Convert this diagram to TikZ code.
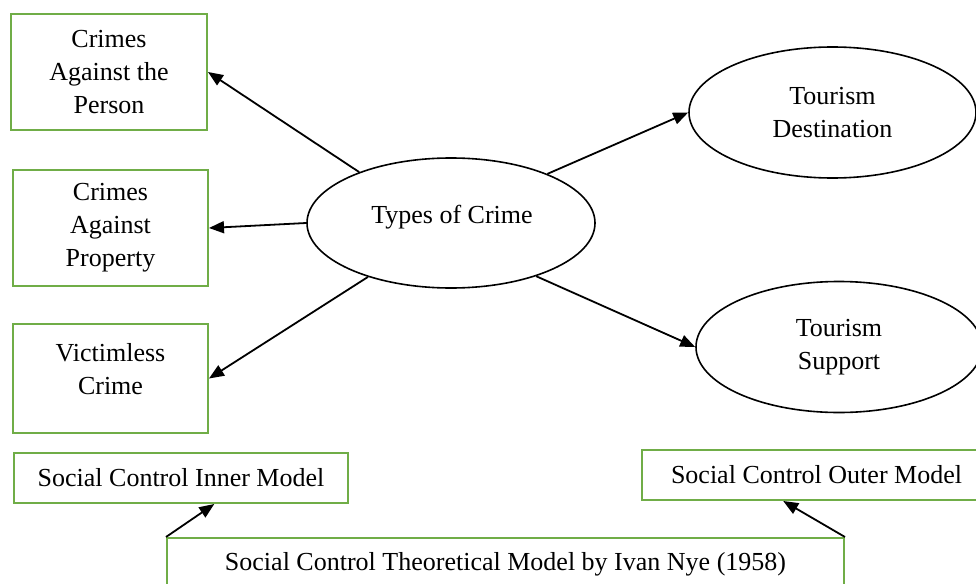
\documentclass[tikz,border=0pt]{standalone}
\usepackage{fontspec}
\setmainfont{Liberation Serif}
\usetikzlibrary{arrows.meta}
\usetikzlibrary{shapes.geometric}
\definecolor{boxgreen}{RGB}{112,173,71}

\begin{document}
\begin{tikzpicture}[x=1pt, y=-1pt,
    font=\fontsize{26}{33}\selectfont,
    gbox/.style={draw=boxgreen, line width=2pt, inner sep=0pt, align=center},
    oval/.style={ellipse, draw, line width=1.6pt, inner sep=0pt, align=center},
    arr/.style={line width=1.8pt, -{Triangle[length=15pt, width=12pt]}}]
      \useasboundingbox (0,0) rectangle (976,583);
      \clip (0,0) rectangle (976,583);

      \node[gbox, minimum width=196pt, minimum height=116pt] (person) at (109,72) {Crimes\\Against the\\Person};
      \node[gbox, minimum width=195pt, minimum height=116pt] (property) at (110.5,228) {Crimes\\Against\\Property};
      \node[gbox, minimum width=195pt, minimum height=109pt] (victim) at (110.5,378.5) {};
      \node[align=center] (victimtext) at (110.5,369) {Victimless\\Crime};

      \node[oval, minimum width=288pt, minimum height=130pt] (crime) at (451,223) {};
      \node (crimetext) at (452,217) {Types of Crime};
      \node[oval, minimum width=287pt, minimum height=131pt] (dest) at (832.5,112.5) {Tourism\\Destination};
      \node[oval, minimum width=286pt, minimum height=131pt] (support) at (839,347) {Tourism\\Support};

      \node[gbox, minimum width=334pt, minimum height=50pt] (inner) at (181,478) {Social Control Inner Model};
      \node[gbox, minimum width=349pt, minimum height=50pt] (outer) at (816.5,475) {Social Control Outer Model};
      \node[gbox, minimum width=677pt, minimum height=52pt] (theory) at (505.5,564) {Social Control Theoretical Model by Ivan Nye (1958)};

      \draw[arr] (crime.151) -- (person.east);
      \draw[arr] (crime.west) -- (property.east);
      \draw[arr] (crime.213) -- (victim.east);
      \draw[arr] (crime.27) -- (dest.west);
      \draw[arr] (crime.328) -- (support.west);
      \draw[arr] (theory.north west) -- (inner.322);
      \draw[arr] (theory.north east) -- (outer.218);
    \end{tikzpicture}
\end{document}
